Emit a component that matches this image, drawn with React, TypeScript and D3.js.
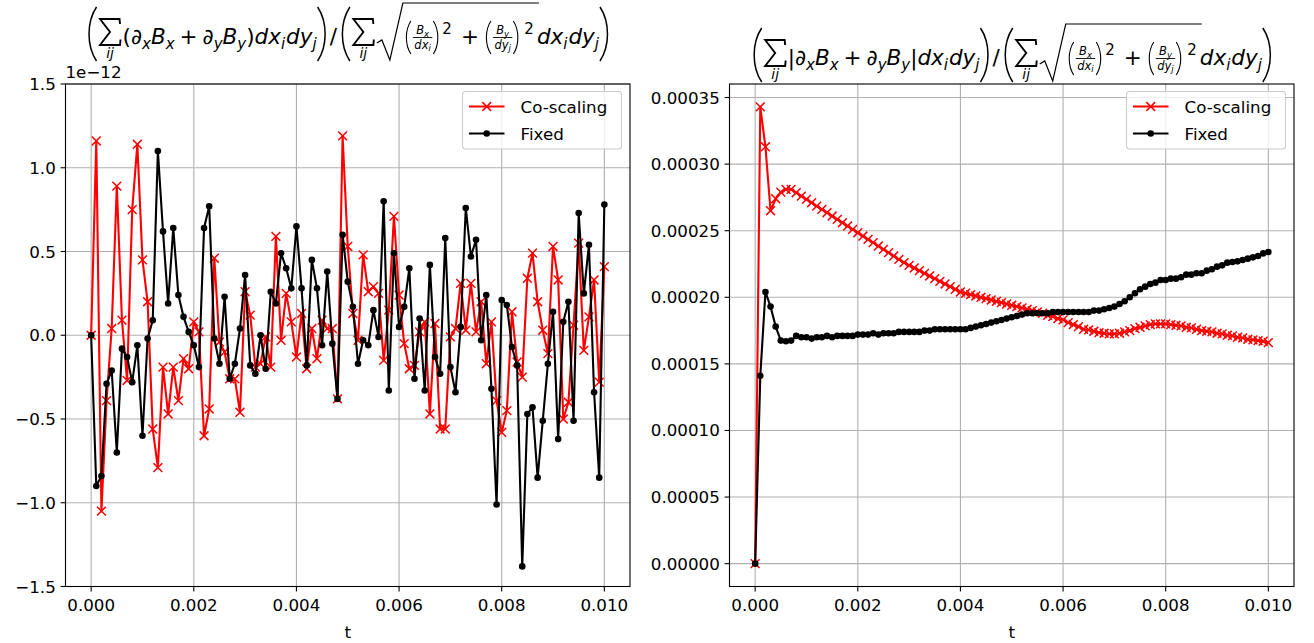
import React from 'react';
import * as d3 from 'd3';

// ---------------- data ----------------
const T_STEP = 0.0001;
const xTickValues = [0, 0.002, 0.004, 0.006, 0.008, 0.01];
const leftYTicks = [-1.5, -1.0, -0.5, 0.0, 0.5, 1.0, 1.5];
const rightYTicks = [0, 0.00005, 0.0001, 0.00015, 0.0002, 0.00025, 0.0003, 0.00035];
const seriesNames = ['Co-scaling', 'Fixed'];

// left panel values (x 1e-12)
const leftCoScaling = [
  0, 1.16, -1.05, -0.39, 0.04, 0.89, 0.09, -0.27, 0.75, 1.14,
  0.45, 0.20, -0.56, -0.79, -0.19, -0.47, -0.19, -0.39, -0.14, -0.20,
  0.08, 0.02, -0.60, -0.44, 0.46, -0.04, -0.10, -0.26, -0.26, -0.46,
  0.26, 0.12, -0.19, -0.17, -0.01, -0.19, 0.59, -0.03, 0.25, 0.08,
  -0.13, 0.13, -0.20, 0.04, -0.14, 0.09, 0.04, 0.04, -0.38, 1.19,
  0.53, 0.13, -0.03, 0.48, 0.26, 0.29, 0.25, -0.15, 0.15, 0.71,
  0.24, -0.05, -0.20, -0.18, 0.02, 0.08, -0.47, 0.07, -0.56, -0.56,
  -0.01, 0.04, 0.31, 0.03, 0.31, 0.02, 0.20, -0.17, 0.08, -0.39,
  -0.58, -0.45, 0.14, -0.16, -0.25, 0.34, 0.49, 0.20, 0.03, -0.11,
  0.53, 0.33, -0.50, -0.40, 0.06, 0.55, -0.09, 0.11, 0.33, -0.28,
  0.41,
];
const leftFixed = [
  0, -0.90, -0.84, -0.29, -0.21, -0.70, -0.08, -0.13, -0.28, -0.06,
  -0.60, -0.02, 0.09, 1.10, 0.62, 0.19, 0.64, 0.24, 0.11, 0.02,
  -0.06, -0.19, 0.64, 0.77, -0.02, -0.17, 0.23, -0.26, -0.17, 0.04,
  0.36, -0.18, -0.23, 0.00, -0.20, 0.26, 0.19, 0.49, 0.40, 0.28,
  0.65, 0.28, -0.18, 0.45, 0.28, -0.06, 0.38, -0.05, -0.38, 0.60,
  0.32, 0.17, -0.17, -0.03, -0.06, 0.15, -0.01, 0.80, -0.33, 0.49,
  0.05, 0.17, 0.40, -0.26, 0.10, -0.33, 0.42, -0.13, -0.23, 0.58,
  -0.19, -0.34, 0.05, 0.76, 0.47, 0.57, -0.03, 0.24, -0.32, -1.01,
  0.21, 0.18, -0.07, -0.18, -1.38, -0.47, -0.43, -0.85, -0.51, -0.17,
  0.14, -0.62, 0.08, 0.20, -0.51, 0.73, 0.25, 0.54, -0.34, -0.85,
  0.78,
];
// right panel values (x 1e-6)
const rightCoScaling = [
  0, 343, 313, 265, 274, 279, 281, 281, 278.5, 276,
  273.5, 271, 268.5, 266, 263.5, 261, 258.5, 256, 253.5, 251,
  248.5, 246, 243.5, 241, 238.5, 236, 233.5, 231, 228.5, 226,
  224, 222, 220, 218, 216, 214, 212, 210, 208, 206,
  204, 203, 202, 201, 200, 199, 198, 197, 196, 195,
  194, 193, 192, 191, 190, 189, 188, 186.5, 185.5, 184,
  183, 181, 179.5, 178, 176, 175.5, 174.5, 173.5, 173, 172.5,
  172.5, 173, 174, 175, 176.5, 177.5, 178.5, 179.5, 180, 180,
  180, 179.5, 179, 178.5, 177.5, 177, 176, 175, 174.5, 174,
  173, 172.5, 171.5, 171, 170, 169.5, 168.5, 168, 167.5, 167,
  166,
];
const rightFixed = [
  0, 141, 204, 193, 178, 167.5, 167, 167.5, 171, 170,
  170, 169, 170, 170, 171, 170, 171, 171, 171, 171,
  172, 172, 172, 173, 172, 173, 173, 173, 174, 174,
  174, 174, 174, 175, 175, 176, 176, 176, 176, 176,
  176, 176, 177, 178, 179, 180, 181, 182, 183, 184,
  185, 186, 187, 188, 188, 188, 188, 188, 189, 189,
  189, 189, 189, 189, 189, 189, 190, 190, 191, 192,
  193, 195, 197, 200, 203, 206, 208, 210, 211, 213,
  213, 214, 214, 215, 217, 217, 218, 218, 220, 221,
  223, 224, 226, 226.5, 227, 228, 229, 230, 231, 233,
  234,
];

// ---------------- text measuring ----------------
let _ctx: CanvasRenderingContext2D | null = null;
function tw(s: string, size: number, italic = false) {
  if (!_ctx) _ctx = document.createElement('canvas').getContext('2d');
  if (!_ctx) return s.length * size * 0.6;
  _ctx.font = `${italic ? 'italic ' : ''}${size}px "DejaVu Sans"`;
  return _ctx.measureText(s).width;
}

function MathTitle({ cx, baseline, abs }: { cx: number; baseline: number; abs: boolean }) {
  const F = 21.5, S = 15, FS = 11.5, FSS = 8.5;
  const els: React.ReactNode[] = [];
  let x = 0;
  let k = 0;
  const T = (s: string, size = F, it = false, dy = 0) => {
    els.push(
      <text key={k++} x={x} y={dy} fontSize={size} fontStyle={it ? 'italic' : 'normal'}>{s}</text>
    );
    x += tw(s, size, it);
  };
  const gap = (w: number) => { x += w; };
  const parenL = (top: number, bot: number, w: number, sw: number, adv: number) => {
    const h = bot - top;
    const d = `M${x + w},${top} C${x - 1},${top + h * 0.28} ${x - 1},${bot - h * 0.28} ${x + w},${bot}`;
    els.push(<path key={k++} d={d} fill="none" stroke="black" strokeWidth={sw} />);
    x += adv;
  };
  const parenR = (top: number, bot: number, w: number, sw: number, adv: number) => {
    const h = bot - top;
    const d = `M${x},${top} C${x + w + 1},${top + h * 0.28} ${x + w + 1},${bot - h * 0.28} ${x},${bot}`;
    els.push(<path key={k++} d={d} fill="none" stroke="black" strokeWidth={sw} />);
    x += adv;
  };
  const bigL = () => { gap(3); parenL(-37, 17, 9, 1.5, 11); };
  const bigR = () => { gap(1); parenR(-37, 17, 9, 1.5, 11); };
  const medL = () => { gap(1); parenL(-23, 10, 5, 1.1, 7); };
  const medR = () => { gap(1); parenR(-23, 10, 5, 1.1, 7); };
  const sigma = () => {
    const w = 20;
    const x0 = x + 1.5;
    els.push(
      <path key={k++}
        d={`M${x0 + w},${-20} L${x0 + w - 0.5},${-25} L${x0},${-25} L${x0 + w * 0.5},${-12} L${x0},${1} L${x0 + w},${1} L${x0 + w + 0.5},${-4.5}`}
        fill="none" stroke="black" strokeWidth={1.9} strokeLinejoin="miter" />
    );
    els.push(
      <text key={k++} x={x0 + w / 2} y={13.5} fontSize={14} fontStyle="italic" textAnchor="middle">ij</text>
    );
    x += w + 4;
  };
  const frac = (nb: string, ns: string, db: string, ds: string) => {
    const nw = tw(nb, FS, true) + tw(ns, FSS, true);
    const dw = tw(db, FS, true) + tw(ds, FSS, true);
    const w = Math.max(nw, dw) + 3;
    const x0 = x;
    let xx = x0 + (w - nw) / 2;
    els.push(<text key={k++} x={xx} y={-10} fontSize={FS} fontStyle="italic">{nb}</text>);
    xx += tw(nb, FS, true);
    els.push(<text key={k++} x={xx} y={-7.5} fontSize={FSS} fontStyle="italic">{ns}</text>);
    els.push(<line key={k++} x1={x0} x2={x0 + w} y1={-6.5} y2={-6.5} stroke="black" strokeWidth={0.9} />);
    xx = x0 + (w - dw) / 2;
    els.push(<text key={k++} x={xx} y={4.5} fontSize={FS} fontStyle="italic">{db}</text>);
    xx += tw(db, FS, true);
    els.push(<text key={k++} x={xx} y={7} fontSize={FSS} fontStyle="italic">{ds}</text>);
    x += w;
  };
  const dxdy = () => {
    T('d', F, true); T('x', F, true); T('i', S, true, 5);
    gap(1);
    T('d', F, true); T('y', F, true); T('j', S, true, 5);
  };

  // numerator
  bigL();
  sigma();
  T(abs ? '|' : '(');
  T('∂'); T('x', S, true, 5); T('B', F, true); T('x', S, true, 5);
  gap(5); T('+'); gap(5);
  T('∂'); T('y', S, true, 5); T('B', F, true); T('y', S, true, 5);
  T(abs ? '|' : ')');
  dxdy();
  bigR();
  gap(1);
  T('/');
  gap(1);
  bigL();
  sigma();
  // square root
  const rTop = -41;
  const rx = x;
  x += 29;
  medL();
  frac('B', 'x', 'dx', 'i');
  medR();
  gap(2);
  T('2', S, false, -10);
  gap(9); T('+'); gap(6);
  medL();
  frac('B', 'y', 'dy', 'j');
  medR();
  gap(4);
  T('2', S, false, -10);
  const endOver = x + 5;
  els.push(
    <path key={k++}
      d={`M${rx + 1},-1 L${rx + 6},-4 L${rx + 14},16 L${rx + 27},${rTop} L${endOver},${rTop}`}
      fill="none" stroke="black" strokeWidth={1.2} strokeLinejoin="miter" />
  );
  gap(3);
  dxdy();
  bigR();
  const total = x;
  return <g transform={`translate(${cx - total / 2},${baseline})`} fill="black">{els}</g>;
}

// ---------------- panel ----------------
type PanelProps = {
  x0: number; x1: number; y0: number; y1: number;
  yDomain: [number, number];
  yTicks: number[];
  yFmt: (v: number) => string;
  co: number[]; fixed: number[];
  abs: boolean;
  titleBaseline: number;
  offsetText?: string;
};

function Panel(p: PanelProps) {
  const xs = d3.scaleLinear().domain([-0.0005, 0.0105]).range([p.x0, p.x1]);
  const ys = d3.scaleLinear().domain(p.yDomain).range([p.y1, p.y0]);
  const line = d3.line<number>().x((_, i) => xs(i * T_STEP)).y((d) => ys(d));
  const fs = 16.7;
  const xf = d3.format('.3f');
  const legX = p.x1 - 167.5;
  const legY = p.y0 + 7.5;
  const xMark = (cx: number, cy: number, key: string, s = 4.4) => (
    <path key={key} d={`M${cx - s},${cy - s}L${cx + s},${cy + s}M${cx - s},${cy + s}L${cx + s},${cy - s}`}
      stroke="#ff0000" strokeWidth={1.5} fill="none" />
  );
  return (
    <g>
      {/* grid */}
      {xTickValues.map((t) => (
        <line key={'gx' + t} x1={xs(t)} x2={xs(t)} y1={p.y0} y2={p.y1} stroke="#b0b0b0" strokeWidth={1.1} />
      ))}
      {p.yTicks.map((t) => (
        <line key={'gy' + t} x1={p.x0} x2={p.x1} y1={ys(t)} y2={ys(t)} stroke="#b0b0b0" strokeWidth={1.1} />
      ))}
      {/* Co-scaling */}
      <path d={line(p.co) || ''} fill="none" stroke="#ff0000" strokeWidth={2.1} strokeLinejoin="round" />
      {p.co.map((v, i) => xMark(xs(i * T_STEP), ys(v), 'c' + i))}
      {/* Fixed */}
      <path d={line(p.fixed) || ''} fill="none" stroke="#000000" strokeWidth={2.1} strokeLinejoin="round" />
      {p.fixed.map((v, i) => (
        <circle key={'f' + i} cx={xs(i * T_STEP)} cy={ys(v)} r={3.3} fill="#000000" />
      ))}
      {/* frame */}
      <rect x={p.x0} y={p.y0} width={p.x1 - p.x0} height={p.y1 - p.y0} fill="none" stroke="black" strokeWidth={1.1} />
      {/* x ticks */}
      {xTickValues.map((t) => (
        <g key={'xt' + t}>
          <line x1={xs(t)} x2={xs(t)} y1={p.y1} y2={p.y1 + 4.9} stroke="black" strokeWidth={1.1} />
          <text x={xs(t)} y={p.y1 + 24} fontSize={fs} textAnchor="middle">{xf(t)}</text>
        </g>
      ))}
      {p.yTicks.map((t) => (
        <g key={'yt' + t}>
          <line x1={p.x0 - 4.9} x2={p.x0} y1={ys(t)} y2={ys(t)} stroke="black" strokeWidth={1.1} />
          <text x={p.x0 - 9.7} y={ys(t) + 6} fontSize={fs} textAnchor="end">{p.yFmt(t)}</text>
        </g>
      ))}
      <text x={(p.x0 + p.x1) / 2} y={p.y1 + 51} fontSize={fs} textAnchor="middle">t</text>
      {p.offsetText && (
        <text x={p.x0} y={p.y0 - 6} fontSize={fs}>{p.offsetText}</text>
      )}
      {/* legend */}
      <rect x={legX} y={legY} width={159} height={57.5} rx={3} fill="white" fillOpacity={0.8}
        stroke="#cccccc" strokeWidth={1.1} />
      <line x1={legX + 6.5} x2={legX + 42} y1={legY + 15} y2={legY + 15} stroke="#ff0000" strokeWidth={2.1} />
      {xMark(legX + 24.2, legY + 15, 'lx')}
      <text x={legX + 58} y={legY + 21} fontSize={fs}>{seriesNames[0]}</text>
      <line x1={legX + 6.5} x2={legX + 42} y1={legY + 42} y2={legY + 42} stroke="#000000" strokeWidth={2.1} />
      <circle cx={legX + 24.2} cy={legY + 42} r={3.3} fill="#000" />
      <text x={legX + 58} y={legY + 48} fontSize={fs}>{seriesNames[1]}</text>
      <MathTitle cx={(p.x0 + p.x1) / 2} baseline={p.titleBaseline} abs={p.abs} />
    </g>
  );
}

export default function App() {
  const leftFmt = d3.format('.1f');
  const rightFmt = d3.format('.5f');
  const rMax = d3.max(rightCoScaling)! * 1e-6;
  const rPad = rMax * 0.05;
  return (
    <svg width={1314} height={643} style={{ position: 'absolute', left: 0, top: 0, display: 'block' }}
      fontFamily='"DejaVu Sans", sans-serif'>
      <rect width={1314} height={643} fill="white" />
      <Panel x0={65.5} x1={630} y0={84} y1={586.5} yDomain={[-1.5, 1.5]} yTicks={leftYTicks}
        yFmt={(v) => leftFmt(v)} co={leftCoScaling} fixed={leftFixed} abs={false}
        titleBaseline={44} offsetText="1e−12" />
      <Panel x0={729.5} x1={1294} y0={84} y1={586.5} yDomain={[-rPad, rMax + rPad]} yTicks={rightYTicks}
        yFmt={(v) => rightFmt(v)} co={rightCoScaling.map((v) => v * 1e-6)} fixed={rightFixed.map((v) => v * 1e-6)}
        abs={true} titleBaseline={65} />
    </svg>
  );
}
